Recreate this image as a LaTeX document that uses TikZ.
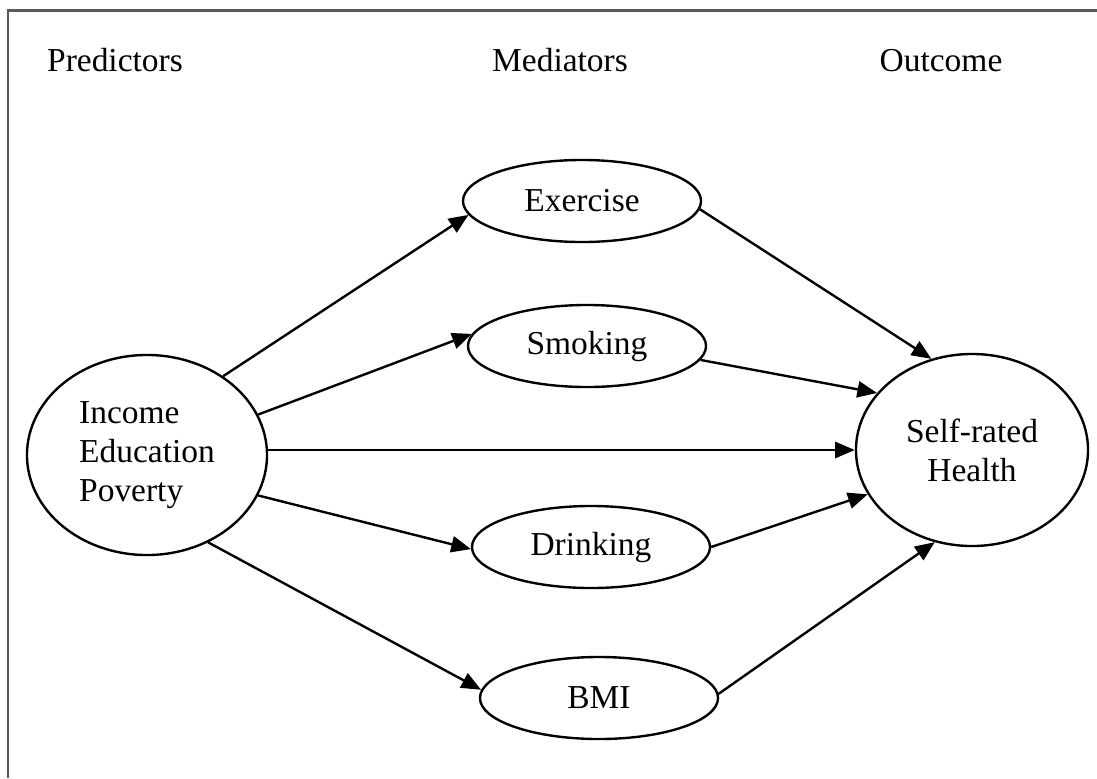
\documentclass[tikz,border=0pt]{standalone}
\usepackage{fontspec}
\setmainfont{Liberation Serif}
\usetikzlibrary{arrows.meta,shapes.geometric}

\begin{document}
\begin{tikzpicture}[x=0.025cm, y=-0.025cm,
  every node/.style={font=\fontsize{23.8}{27.7}\selectfont},
  med/.style={draw, ellipse, line width=1.7pt, minimum width=5.95cm, minimum height=2.05cm, inner sep=0pt},
  arr/.style={line width=1.7pt, -{Triangle[length=14pt, width=11.5pt]}}]

  \useasboundingbox (0,0) rectangle (1097,778);
  \draw[black!65, line width=1.5pt] (8,778) -- (8,10.5) -- (1097,10.5);

  \node[anchor=base] (predl) at (115,71) {Predictors};
  \node[anchor=base] (medl) at (560,71) {Mediators};
  \node[anchor=base] (outl) at (941,71) {Outcome};

  \node[draw, ellipse, line width=1.7pt, minimum width=6cm, minimum height=5cm, inner sep=0pt, align=left]
    (inc) at (147,455) {Income\\Education\\Poverty};
  \node[draw, ellipse, line width=1.7pt, minimum width=5.8cm, minimum height=4.8cm, inner sep=0pt, align=center]
    (hlth) at (972,450) {Self-rated\\Health};

  \node[med] (exer) at (582,201) {Exercise};
  \node[med] (smok) at (587,346) {Smoking};
  \node[med] (drink) at (591,547) {Drinking};
  \node[med] (bmi) at (599,698) {BMI};

  \draw[arr] (inc.46) -- (exer.187);
  \draw[arr] (inc.20) -- (smok.174);
  \draw[arr] (inc.east |- hlth) -- (hlth);
  \draw[arr] (inc.-20) -- (drink.181);
  \draw[arr] (inc.-55) -- (bmi.176);

  \draw[arr] (exer.356) -- (hlth.114);
  \draw[arr] (smok.353) -- (hlth.149);
  \draw[arr] (drink.0) -- (hlth.203);
  \draw[arr] (bmi.2) -- (hlth.248);

\end{tikzpicture}
\end{document}
